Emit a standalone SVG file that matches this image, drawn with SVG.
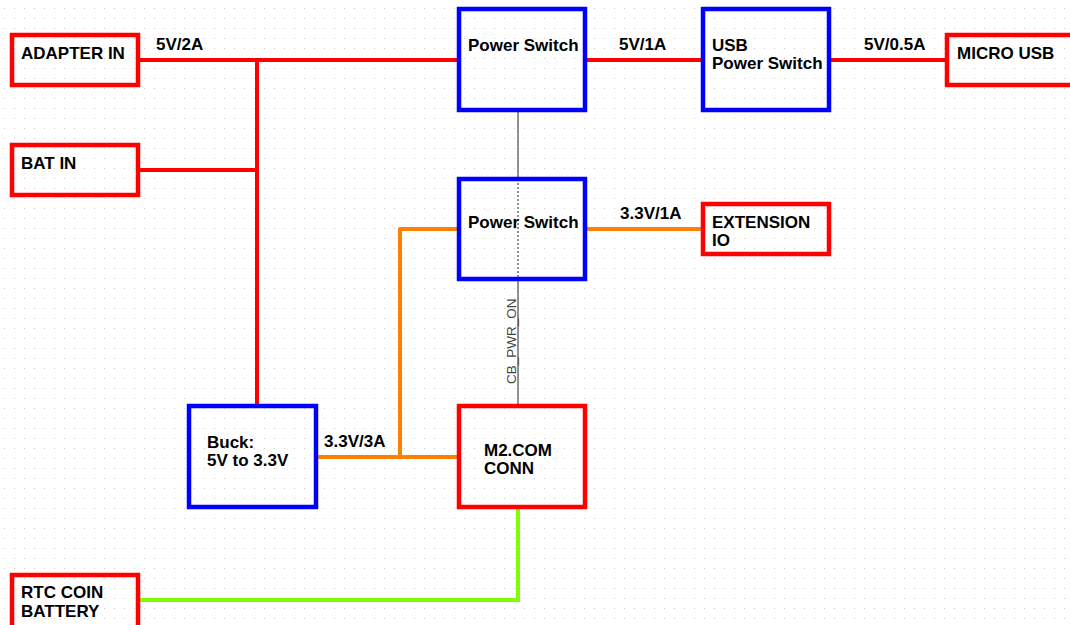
<svg xmlns="http://www.w3.org/2000/svg" width="1070" height="625" viewBox="0 0 1070 625">
<defs>
<pattern id="grid" x="4" y="8" width="10" height="10" patternUnits="userSpaceOnUse">
<rect x="0" y="0" width="1" height="1" fill="#c8c8c8"/>
</pattern>
<style>
.lbl{font-family:"Liberation Sans",Arial,sans-serif;font-weight:bold;font-size:17px;fill:#000}
.sig{font-family:"Liberation Sans",Arial,sans-serif;font-size:13.5px;fill:#444}
.rbox{fill:none;stroke:#ff0000;stroke-width:4.5}
.bbox{fill:none;stroke:#0000ff;stroke-width:4.5}
.red{fill:none;stroke:#ff0000;stroke-width:4}
.org{fill:none;stroke:#ff8000;stroke-width:4;stroke-linejoin:round}
.grn{fill:none;stroke:#7fff00;stroke-width:4}
.thin{fill:none;stroke:#222;stroke-width:1}
</style>
</defs>
<rect width="1070" height="625" fill="#fff"/>
<rect width="1070" height="625" fill="url(#grid)"/>
<g id="connectors">
<path class="red" d="M138 60 H459"/>
<path class="red" d="M257 60 V404"/>
<path class="red" d="M138 170 H257"/>
<path class="red" d="M585 60 H703"/>
<path class="red" d="M829 60 H947"/>
<path class="org" d="M316 457 H459"/>
<path class="org" d="M400 457 V229 H459"/>
<path class="org" d="M585 229 H703"/>
<path class="grn" d="M518 509 V600 H138"/>
<path class="thin" d="M518 110 V179"/>
<path class="thin" d="M518 179 V279" stroke-dasharray="2,2"/>
<path class="thin" d="M518 279 V404"/>
<text class="sig" transform="translate(516,384) rotate(-90)">CB_PWR_ON</text>
<text class="lbl" x="156" y="50">5V/2A</text>
<text class="lbl" x="619" y="50">5V/1A</text>
<text class="lbl" x="864" y="50">5V/0.5A</text>
<text class="lbl" x="620" y="219">3.3V/1A</text>
<text class="lbl" x="324" y="447">3.3V/3A</text>
</g>
<g id="adapter-in">
<rect class="rbox" x="12" y="35" width="126" height="50"/>
<text class="lbl" x="21" y="59">ADAPTER IN</text>
</g>
<g id="bat-in">
<rect class="rbox" x="12" y="145" width="126" height="50"/>
<text class="lbl" x="21" y="169">BAT IN</text>
</g>
<g id="power-switch-1">
<rect class="bbox" x="459" y="9" width="126" height="101"/>
<text class="lbl" x="468" y="51">Power Switch</text>
</g>
<g id="usb-power-switch">
<rect class="bbox" x="703" y="9" width="126" height="101"/>
<text class="lbl" x="712" y="51">USB</text>
<text class="lbl" x="712" y="69">Power Switch</text>
</g>
<g id="micro-usb">
<rect class="rbox" x="947" y="35" width="130" height="50"/>
<text class="lbl" x="957" y="59">MICRO USB</text>
</g>
<g id="power-switch-2">
<rect class="bbox" x="459" y="179" width="126" height="100"/>
<text class="lbl" x="468" y="228">Power Switch</text>
</g>
<g id="extension-io">
<rect class="rbox" x="703" y="204" width="126" height="50"/>
<text class="lbl" x="712" y="228">EXTENSION</text>
<text class="lbl" x="712" y="246">IO</text>
</g>
<g id="buck">
<rect class="bbox" x="189" y="406" width="127" height="101"/>
<text class="lbl" x="207" y="448">Buck:</text>
<text class="lbl" x="207" y="466">5V to 3.3V</text>
</g>
<g id="m2-com-conn">
<rect class="rbox" x="459" y="406" width="126" height="101"/>
<text class="lbl" x="484" y="456">M2.COM</text>
<text class="lbl" x="484" y="474">CONN</text>
</g>
<g id="rtc-coin-battery">
<rect class="rbox" x="12" y="575" width="126" height="60"/>
<text class="lbl" x="21" y="598">RTC COIN</text>
<text class="lbl" x="21" y="617">BATTERY</text>
</g>
</svg>
